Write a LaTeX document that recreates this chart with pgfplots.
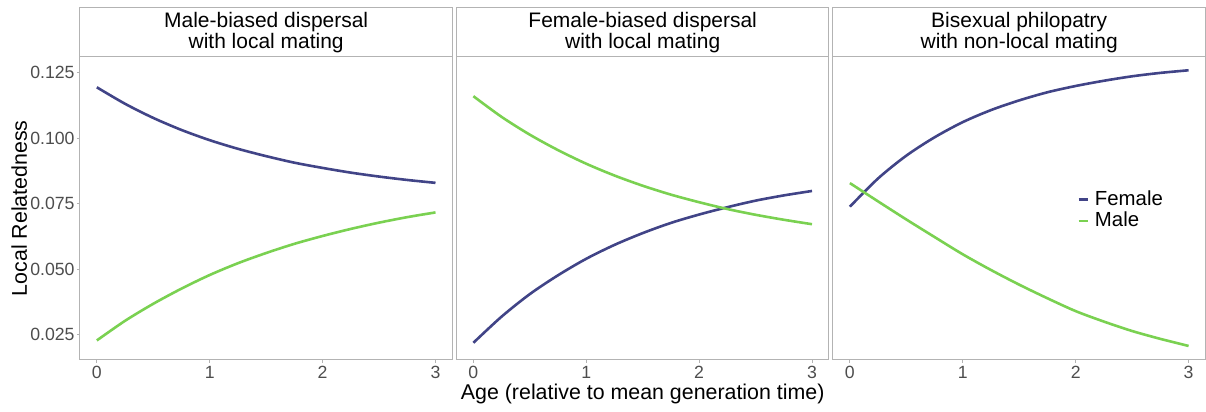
\documentclass[border=0pt]{standalone}
\usepackage{fontspec}
\setmainfont{Liberation Sans}
\usepackage{pgfplots}
\pgfplotsset{compat=1.18}
\definecolor{fem}{HTML}{414487}
\definecolor{mal}{HTML}{7AD151}
\definecolor{frame}{HTML}{B3B3B3}
\definecolor{ticktext}{HTML}{4D4D4D}

\pgfplotstableread{
x     f1      m1      f2      m2      f3      m3
0.00  0.1195  0.0228  0.0219  0.1161  0.0739  0.0829
0.25  0.1132  0.0303  0.0319  0.1082  0.0847  0.0759
0.50  0.1078  0.0368  0.0405  0.1014  0.0934  0.0690
0.75  0.1032  0.0426  0.0477  0.0955  0.1004  0.0623
1.00  0.0993  0.0478  0.0540  0.0903  0.1062  0.0557
1.25  0.0960  0.0523  0.0593  0.0858  0.1108  0.0497
1.50  0.0932  0.0562  0.0638  0.0819  0.1145  0.0441
1.75  0.0907  0.0597  0.0677  0.0785  0.1176  0.0389
2.00  0.0887  0.0627  0.0709  0.0756  0.1200  0.0340
2.25  0.0869  0.0654  0.0737  0.0730  0.1220  0.0300
2.50  0.0854  0.0678  0.0762  0.0708  0.1237  0.0264
2.75  0.0841  0.0699  0.0782  0.0689  0.1250  0.0234
3.00  0.0830  0.0717  0.0799  0.0672  0.1260  0.0207
}\datatable

\tikzset{strip/.style={draw=frame, line width=0.5pt}}
\pgfplotsset{
  panel/.style={
    scale only axis, width=186.5pt, height=151.5pt,
    anchor=south west,
    xmin=-0.15, xmax=3.15, ymin=0.0155, ymax=0.1311,
    clip=false,
    axis line style={frame, line width=0.5pt},
    xtick={0,1,2,3}, xtick pos=bottom,
    ytick={0.025,0.05,0.075,0.1,0.125}, ytick pos=left,
    tick style={frame, line width=0.5pt},
    tick align=outside, major tick length=1.5pt,
    xticklabel style={font=\fontsize{8.85}{10}\selectfont, text=ticktext, inner ysep=1.5pt},
    yticklabel style={font=\fontsize{8.85}{10}\selectfont, text=ticktext, inner xsep=1pt},
    /pgf/number format/assume math mode=true,
    every axis plot/.append style={line width=1.3pt, smooth, no markers},
    label style={font=\fontsize{10.7}{12}\selectfont, text=black},
  },
}

\begin{document}
\begin{tikzpicture}
\path (-40pt,-26pt) rectangle (563.5pt,180pt);

\begin{axis}[panel, name=p1, at={(0pt,0pt)},
  yticklabels={0.025,0.050,0.075,0.100,0.125},
  ylabel={Local Relatedness},
  ylabel style={yshift=-3pt}]
  \addplot[fem] table[x=x,y=f1]{\datatable};
  \addplot[mal] table[x=x,y=m1]{\datatable};
  \draw[strip] (rel axis cs:0,1) rectangle (rel axis cs:1,1.1617);
  \node[align=center, font=\fontsize{10.5}{10.75}\selectfont] at (rel axis cs:0.5,1.0808) {Male-biased dispersal\\with local mating};
\end{axis}

\begin{axis}[panel, name=p2, at={(188.5pt,0pt)},
  yticklabels={}, ytick style={draw=none},
  xlabel={Age (relative to mean generation time)},
  xlabel style={yshift=2.5pt}]
  \addplot[fem] table[x=x,y=f2]{\datatable};
  \addplot[mal] table[x=x,y=m2]{\datatable};
  \draw[strip] (rel axis cs:0,1) rectangle (rel axis cs:1,1.1617);
  \node[align=center, font=\fontsize{10.5}{10.75}\selectfont] at (rel axis cs:0.5,1.0808) {Female-biased dispersal\\with local mating};
\end{axis}

\begin{axis}[panel, name=p3, at={(377pt,0pt)},
  yticklabels={}, ytick style={draw=none},
  legend style={at={(0.655,0.4935)}, anchor=west, draw=none, fill=none,
    inner sep=0pt, row sep=1pt,
    nodes={inner sep=0.5pt, font=\fontsize{10.2}{10.5}\selectfont},
    /tikz/every odd column/.append style={column sep=2.5pt}},
  legend cell align=left,
  legend image code/.code={\draw[#1, line width=1.3pt] (0pt,0pt) -- (4.5pt,0pt);}]
  \addplot[fem] table[x=x,y=f3]{\datatable};
  \addlegendentry{Female}
  \addplot[mal] table[x=x,y=m3]{\datatable};
  \addlegendentry{Male}
  \draw[strip] (rel axis cs:0,1) rectangle (rel axis cs:1,1.1617);
  \node[align=center, font=\fontsize{10.5}{10.75}\selectfont] at (rel axis cs:0.5,1.0808) {Bisexual philopatry\\with non-local mating};
\end{axis}
\end{tikzpicture}
\end{document}
